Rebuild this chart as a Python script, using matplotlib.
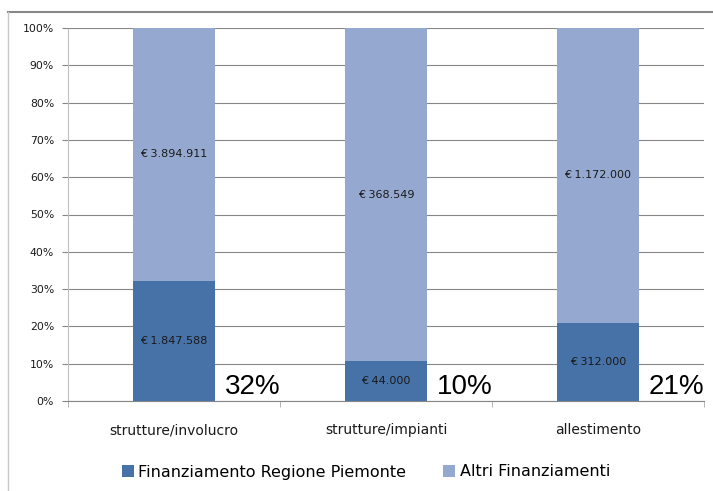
import matplotlib
matplotlib.use('Agg')
import matplotlib.pyplot as plt
from matplotlib.lines import Line2D
import numpy as np

# dati
categorie = ['strutture/involucro', 'strutture/impianti', 'allestimento']
regione = [1847588, 44000, 312000]
altri = [3894911, 368549, 1172000]
lab_regione = ['€ 1.847.588', '€ 44.000', '€ 312.000']
lab_altri = ['€ 3.894.911', '€ 368.549', '€ 1.172.000']
quote = ['32%', '10%', '21%']
serie = ['Finanziamento Regione Piemonte', 'Altri Finanziamenti']

col_scuro = '#4672A8'
col_chiaro = '#95A9D0'

reg = np.array(regione, dtype=float)
alt = np.array(altri, dtype=float)
tot = reg + alt
p_reg = reg / tot
p_alt = alt / tot

fig = plt.figure(figsize=(7.13, 4.91), dpi=100)
ax = fig.add_axes([68 / 713, 1 - 401 / 491, 636 / 713, 373 / 491])

x = np.arange(len(categorie))
w = 0.39
b1 = ax.bar(x, p_reg, w, color=col_scuro, zorder=2, label=serie[0])
b2 = ax.bar(x, p_alt, w, bottom=p_reg, color=col_chiaro, zorder=2, label=serie[1])

# etichette dentro le barre
for i in range(len(x)):
    ax.text(x[i], p_reg[i] / 2, lab_regione[i], ha='center', va='center',
            fontsize=8, color='#1a1a1a', zorder=3)
    ax.text(x[i], p_reg[i] + p_alt[i] / 2, lab_altri[i], ha='center', va='center',
            fontsize=8, color='#1a1a1a', zorder=3)
    ax.text(x[i] + w / 2 + 0.045, 0.02, quote[i], ha='left', va='baseline',
            fontsize=20, family=['Liberation Sans', 'DejaVu Sans'], zorder=3)

ax.set_xlim(-0.5, 2.5)
ax.set_ylim(0, 1)
ax.set_yticks(np.arange(0, 1.01, 0.1))
ax.set_yticklabels([f'{int(round(v * 100))}%' for v in np.arange(0, 1.01, 0.1)])
ax.yaxis.grid(True, color='#868686', linewidth=0.8, zorder=1)
ax.set_axisbelow(True)

ax.set_xticks(x)
ax.set_xticklabels(categorie, fontsize=10)
ax.set_xticks([-0.5, 0.5, 1.5, 2.5], minor=True)
ax.tick_params(axis='x', which='major', length=0, pad=16, colors='#1a1a1a')
ax.tick_params(axis='x', which='minor', length=4, color='#aaaaaa', direction='out')
ax.tick_params(axis='y', length=4, pad=6, labelsize=7.8, color='#868686', labelcolor='#1a1a1a')

for s in ['top', 'right']:
    ax.spines[s].set_visible(False)
ax.spines['left'].set_color('#c0c0c0')
ax.spines['left'].set_linestyle((0, (1, 1)))
ax.spines['bottom'].set_color('#868686')

fig.legend(handles=[b1, b2], labels=serie, loc='center', bbox_to_anchor=(366 / 713, 1 - 472 / 491),
           ncol=2, frameon=False, fontsize=11.5, handlelength=0.75, handleheight=0.75,
           handletextpad=0.3, columnspacing=2.3)

# cornice del grafico
fig.add_artist(Line2D([8 / 713, 1], [1 - 12 / 491, 1 - 12 / 491], color='#888888', linewidth=1.5))
fig.add_artist(Line2D([8 / 713, 8 / 713], [0, 1 - 12 / 491], color='#c8c8c8', linewidth=1))

plt.savefig('out.png', dpi=100)
